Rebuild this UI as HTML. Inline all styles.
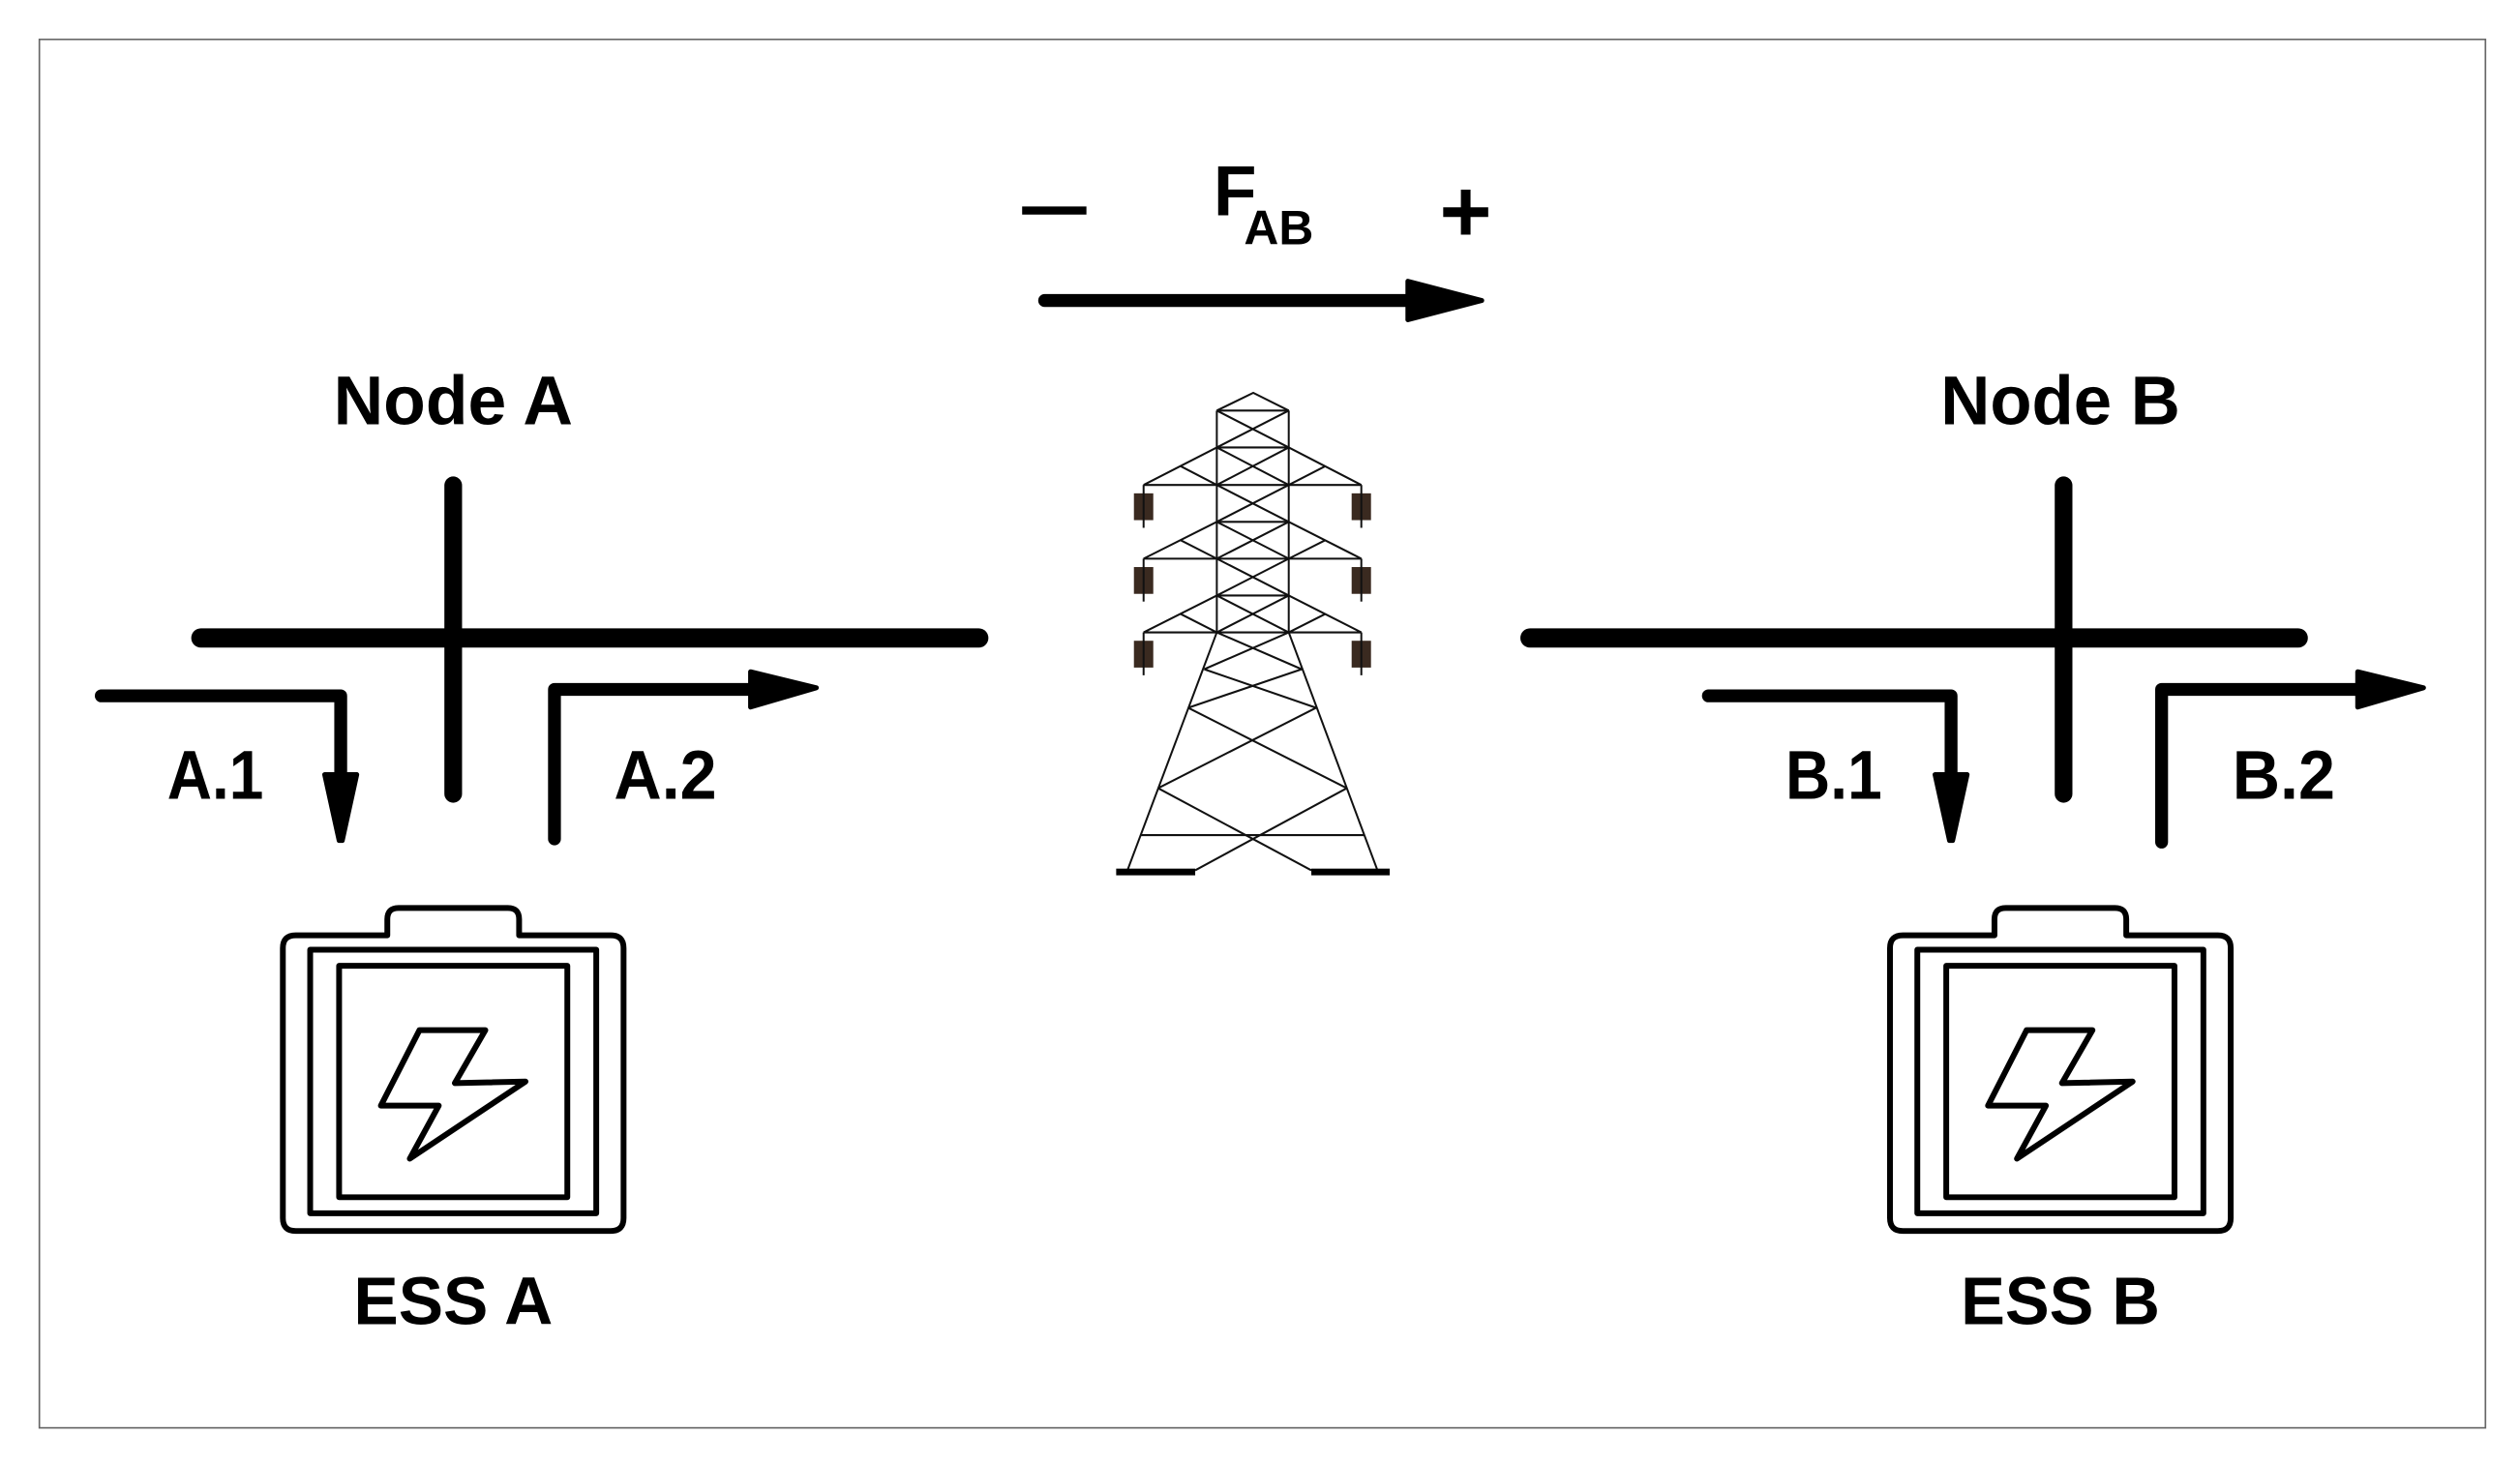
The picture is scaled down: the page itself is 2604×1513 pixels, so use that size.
<!DOCTYPE html>
<html><head><meta charset="utf-8"><style>
html,body{margin:0;padding:0;background:#fff}
svg{display:block}
text{font-family:"Liberation Sans",Arial,sans-serif;font-weight:bold;fill:#000}
</style></head><body>
<svg width="2604" height="1513" viewBox="0 0 1568 911" preserveAspectRatio="none" xmlns="http://www.w3.org/2000/svg">
<rect x="0" y="0" width="1568" height="911" fill="#fff"/>
<rect x="24.5" y="24.5" width="1522" height="864" fill="none" stroke="#666" stroke-width="1"/>

<!-- Flow arrow -->
<line x1="636" y1="131" x2="676" y2="131" stroke="#000" stroke-width="5"/>
<text x="755" y="134" font-size="44">F</text>
<text x="774" y="152" font-size="30">AB</text>
<line x1="898" y1="132" x2="926" y2="132" stroke="#000" stroke-width="6"/>
<line x1="912" y1="118" x2="912" y2="146" stroke="#000" stroke-width="6"/>
<line x1="650" y1="187" x2="880" y2="187" stroke="#000" stroke-width="8" stroke-linecap="round"/>
<polygon points="876,175 922,187 876,199" fill="#000" stroke="#000" stroke-width="3" stroke-linejoin="round"/>

<!-- Node A -->
<text x="282" y="264" font-size="43" text-anchor="middle" textLength="149" lengthAdjust="spacingAndGlyphs">Node A</text>
<line x1="125" y1="397" x2="609" y2="397" stroke="#000" stroke-width="12" stroke-linecap="round"/>
<line x1="282" y1="302" x2="282" y2="494" stroke="#000" stroke-width="11" stroke-linecap="round"/>
<polyline points="63,433 212,433 212,484" fill="none" stroke="#000" stroke-width="8" stroke-linecap="round" stroke-linejoin="round"/>
<polygon points="202,482 222,482 213,523 211,523" fill="#000" stroke="#000" stroke-width="3" stroke-linejoin="round"/>
<polyline points="345,522 345,429 468,429" fill="none" stroke="#000" stroke-width="8" stroke-linecap="round" stroke-linejoin="round"/>
<polygon points="467,418 508,428 467,440" fill="#000" stroke="#000" stroke-width="3" stroke-linejoin="round"/>
<text x="134" y="497" font-size="43" text-anchor="middle" textLength="60" lengthAdjust="spacingAndGlyphs">A.1</text>
<text x="414" y="497" font-size="43" text-anchor="middle" textLength="64" lengthAdjust="spacingAndGlyphs">A.2</text>

<!-- Battery A -->
<g fill="none" stroke="#000" stroke-width="3.6" stroke-linejoin="round">
<path d="M184,582 L241,582 L241,572 Q241,565 248,565 L316,565 Q323,565 323,572 L323,582 L380,582 Q388,582 388,590 L388,758 Q388,766 380,766 L184,766 Q176,766 176,758 L176,590 Q176,582 184,582 Z"/>
<rect x="193" y="591" width="178" height="164"/>
<rect x="211" y="601" width="142" height="144"/>
<polygon points="261,641 302,641 283,674 327,673 255,721 273,688 237,688"/>
</g>
<text x="282" y="824" font-size="42" text-anchor="middle" textLength="124" lengthAdjust="spacingAndGlyphs">ESS A</text>

<!-- Node B -->
<text x="1282" y="264" font-size="43" text-anchor="middle" textLength="149" lengthAdjust="spacingAndGlyphs">Node B</text>
<line x1="952" y1="397" x2="1430" y2="397" stroke="#000" stroke-width="12" stroke-linecap="round"/>
<line x1="1284" y1="302" x2="1284" y2="494" stroke="#000" stroke-width="11" stroke-linecap="round"/>
<polyline points="1063,433 1214,433 1214,484" fill="none" stroke="#000" stroke-width="8" stroke-linecap="round" stroke-linejoin="round"/>
<polygon points="1204,482 1224,482 1215,523 1213,523" fill="#000" stroke="#000" stroke-width="3" stroke-linejoin="round"/>
<polyline points="1345,524 1345,429 1468,429" fill="none" stroke="#000" stroke-width="8" stroke-linecap="round" stroke-linejoin="round"/>
<polygon points="1467,418 1508,428 1467,440" fill="#000" stroke="#000" stroke-width="3" stroke-linejoin="round"/>
<text x="1141" y="497" font-size="43" text-anchor="middle" textLength="60" lengthAdjust="spacingAndGlyphs">B.1</text>
<text x="1421" y="497" font-size="43" text-anchor="middle" textLength="64" lengthAdjust="spacingAndGlyphs">B.2</text>

<!-- Battery B -->
<g transform="translate(1000,0)" fill="none" stroke="#000" stroke-width="3.6" stroke-linejoin="round">
<path d="M184,582 L241,582 L241,572 Q241,565 248,565 L316,565 Q323,565 323,572 L323,582 L380,582 Q388,582 388,590 L388,758 Q388,766 380,766 L184,766 Q176,766 176,758 L176,590 Q176,582 184,582 Z"/>
<rect x="193" y="591" width="178" height="164"/>
<rect x="211" y="601" width="142" height="144"/>
<polygon points="261,641 302,641 283,674 327,673 255,721 273,688 237,688"/>
</g>
<text x="1282" y="824" font-size="42" text-anchor="middle" textLength="124" lengthAdjust="spacingAndGlyphs">ESS B</text>

<!-- Tower -->
<g transform="translate(662.4,228.8) scale(0.2007,0.2085)" stroke="#111" stroke-width="6" fill="none">
<polyline points="472,128 585,75 695,128"/>
<line x1="472" y1="128" x2="472" y2="790"/>
<line x1="695" y1="128" x2="695" y2="790"/>
<line x1="472" y1="128" x2="695" y2="128"/>
<line x1="472" y1="238" x2="695" y2="238"/>
<line x1="472" y1="460" x2="695" y2="460"/>
<line x1="472" y1="680" x2="695" y2="680"/>
<line x1="245" y1="350" x2="920" y2="350"/>
<line x1="245" y1="570" x2="920" y2="570"/>
<line x1="245" y1="790" x2="920" y2="790"/>
<line x1="472" y1="128" x2="695" y2="238"/><line x1="695" y1="128" x2="472" y2="238"/>
<line x1="472" y1="238" x2="695" y2="350"/><line x1="695" y1="238" x2="472" y2="350"/>
<line x1="472" y1="350" x2="695" y2="460"/><line x1="695" y1="350" x2="472" y2="460"/>
<line x1="472" y1="460" x2="695" y2="570"/><line x1="695" y1="460" x2="472" y2="570"/>
<line x1="472" y1="570" x2="695" y2="680"/><line x1="695" y1="570" x2="472" y2="680"/>
<line x1="472" y1="680" x2="695" y2="790"/><line x1="695" y1="680" x2="472" y2="790"/>
<line x1="472" y1="238" x2="245" y2="350"/><line x1="695" y1="238" x2="920" y2="350"/>
<line x1="472" y1="460" x2="245" y2="570"/><line x1="695" y1="460" x2="920" y2="570"/>
<line x1="472" y1="680" x2="245" y2="790"/><line x1="695" y1="680" x2="920" y2="790"/>
<line x1="360" y1="294" x2="472" y2="350"/><line x1="808" y1="294" x2="695" y2="350"/>
<line x1="360" y1="515" x2="472" y2="570"/><line x1="808" y1="515" x2="695" y2="570"/>
<line x1="360" y1="735" x2="472" y2="790"/><line x1="808" y1="735" x2="695" y2="790"/>
<line x1="472" y1="790" x2="195" y2="1500"/><line x1="695" y1="790" x2="970" y2="1500"/>
<line x1="472" y1="790" x2="735" y2="900"/><line x1="695" y1="790" x2="433" y2="900"/>
<line x1="433" y1="900" x2="780" y2="1015"/><line x1="735" y1="900" x2="383" y2="1015"/>
<line x1="383" y1="1015" x2="875" y2="1255"/><line x1="780" y1="1015" x2="290" y2="1255"/>
<line x1="290" y1="1255" x2="765" y2="1500"/><line x1="875" y1="1255" x2="405" y2="1500"/>
<line x1="235" y1="1395" x2="930" y2="1395"/>
<g stroke="none" fill="#3a2a20">
<rect x="215" y="375" width="60" height="80"/><rect x="890" y="375" width="60" height="80"/>
<rect x="215" y="595" width="60" height="80"/><rect x="890" y="595" width="60" height="80"/>
<rect x="215" y="815" width="60" height="80"/><rect x="890" y="815" width="60" height="80"/>
</g>
<line x1="245" y1="350" x2="245" y2="478"/><line x1="920" y1="350" x2="920" y2="478"/>
<line x1="245" y1="570" x2="245" y2="698"/><line x1="920" y1="570" x2="920" y2="698"/>
<line x1="245" y1="790" x2="245" y2="918"/><line x1="920" y1="790" x2="920" y2="918"/>
<g stroke="none" fill="#000">
<rect x="160" y="1495" width="245" height="20"/><rect x="765" y="1495" width="243" height="20"/>
</g>
</g>
</svg>
</body></html>
